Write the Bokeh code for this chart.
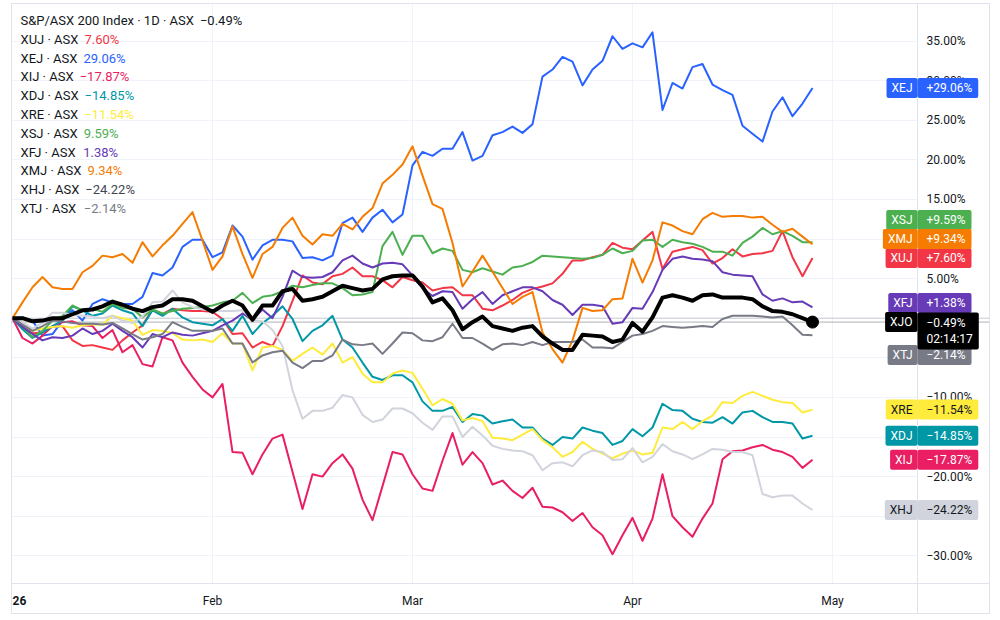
from bokeh.plotting import figure
from bokeh.models import Range1d, FixedTicker, CustomJSTickFormatter, Span, Label
from bokeh.embed import file_html
from bokeh.resources import INLINE

# ---------------------------------------------------------------------------
# Daily % change since the first session of 2026 (ASX trading days, Jan 2 -> Apr 29)
# ---------------------------------------------------------------------------
bars = list(range(81))

xjo = [0, 0.0, -0.4, -0.3, 0.0, 0.0, 0.5, 1.0, 1.1, 1.5, 2.1, 1.7, 1.2, 0.9, 1.4, 1.6, 2.4, 2.4, 2.2, 1.5,
       0.8, 1.6, 2.2, 1.6, -0.2, 1.6, 1.6, 3.4, 3.7, 2.2, 2.4, 2.7, 3.4, 4.1, 3.8, 3.5, 3.7, 4.9, 5.3, 5.4,
       5.4, 4.0, 2.0, 2.5, 1.0, -1.4, -0.5, 0.2, -1.0, -1.3, -1.6, -1.2, -1.0, -2.3, -3.2, -4.0, -4.0, -2.1,
       -2.2, -2.3, -3.0, -2.7, -0.6, -1.7, 0.1, 2.6, 2.9, 2.6, 2.2, 2.9, 3.0, 2.6, 2.6, 2.6, 2.4, 1.5, 0.9,
       0.8, 0.5, 0.0, -0.49]
xuj = [0, -1.1, -1.9, -1.8, -1.1, -1.0, -2.8, -3.5, -3.4, -3.7, -4.0, -2.8, -1.8, -0.9, 1.1, 0.5, 1.2, 1.0,
       0.9, 0.9, 0.8, -0.1, -2.0, -1.9, -3.7, -3.0, -3.5, -1.0, 2.2, 5.4, 4.5, 4.3, 5.3, 5.6, 6.4, 5.3, 5.3,
       4.8, 3.9, 5.2, 4.8, 4.5, 3.5, 3.8, 3.9, 2.9, 2.9, 1.2, 1.0, 1.6, 2.3, 3.2, 3.7, 4.0, 4.4, 5.6, 7.3,
       7.3, 7.7, 8.0, 9.5, 8.9, 8.7, 9.8, 10.9, 6.2, 8.4, 8.7, 9.0, 8.6, 6.9, 7.6, 8.7, 7.8, 8.1, 8.2, 8.5,
       11.0, 7.7, 5.3, 7.60]
xej = [0, 0.1, -0.3, -2.2, -2.0, -0.3, 1.0, -0.3, 1.8, 2.4, 2.0, 1.8, 1.8, 2.7, 5.7, 5.4, 6.4, 9.0, 9.9, 9.9,
       7.7, 8.3, 11.7, 10.3, 7.4, 9.2, 9.9, 9.9, 9.7, 7.6, 7.7, 7.3, 7.9, 12.0, 12.7, 10.9, 12.7, 13.7, 12.1,
       13.1, 19.3, 21.0, 20.5, 21.4, 21.4, 23.5, 19.9, 20.5, 23.1, 23.5, 24.2, 23.4, 24.5, 30.5, 31.4, 33.0,
       32.4, 29.4, 31.4, 32.5, 35.6, 34.0, 34.7, 34.2, 36.1, 26.3, 29.7, 29.0, 31.7, 32.1, 29.5, 28.8, 28.2,
       24.3, 23.3, 22.3, 26.1, 27.9, 25.5, 27.1, 29.06]
xij = [0, -2.5, -3.2, -2.2, -1.0, -0.5, -0.4, -0.9, -1.0, -2.5, -1.5, -4.3, -3.4, -5.8, -6.1, -2.4, -2.8,
       -5.6, -7.4, -9.0, -10.0, -8.3, -16.9, -17.0, -19.7, -17.2, -15.2, -14.7, -19.4, -24.1, -19.7, -20.0,
       -18.3, -17.2, -19.0, -22.9, -25.5, -21.2, -16.9, -17.2, -19.7, -21.5, -21.8, -18.0, -14.5, -18.5,
       -16.9, -18.3, -21.0, -20.5, -21.8, -22.7, -21.4, -23.8, -23.9, -24.5, -25.6, -24.6, -26.4, -27.4,
       -29.8, -27.4, -25.2, -28.1, -25.3, -19.7, -25.0, -26.4, -27.6, -25.3, -23.4, -17.8, -16.8, -16.7,
       -16.3, -16.0, -16.6, -16.9, -17.5, -18.9, -17.87]
xdj = [0, -1.4, -2.5, -1.8, -1.0, -0.3, 1.5, 1.0, 0.3, 0.6, 1.6, 1.0, 0.6, -1.0, 1.0, 0.3, 1.2, 0.1, -0.5,
       -0.7, -0.9, -0.1, -1.6, 0.3, -2.0, -0.6, 0.3, 1.5, -0.1, -2.9, -1.6, -0.9, 0.3, -2.7, -3.7, -5.6, -7.4,
       -7.8, -7.2, -7.2, -8.1, -10.5, -11.7, -11.7, -11.2, -13.1, -12.1, -12.3, -13.3, -13.0, -12.8, -13.8,
       -13.8, -15.2, -16.0, -15.0, -15.2, -13.8, -14.2, -14.5, -16.0, -15.5, -14.0, -14.9, -13.8, -10.8,
       -11.6, -11.7, -12.7, -13.1, -13.2, -12.5, -13.3, -11.9, -11.7, -12.5, -13.1, -13.1, -13.3, -15.2,
       -14.85]
xre = [0, -0.8, -1.6, -1.3, -1.1, -1.0, -1.2, -0.9, -0.8, -0.8, 0.3, 0.0, -0.3, -2.1, -1.5, -1.6, -1.9, -2.7,
       -2.8, -2.7, -3.0, -1.9, -3.2, -3.2, -6.6, -3.7, -3.5, -4.0, -5.4, -4.5, -3.7, -4.6, -3.2, -5.6, -4.9,
       -7.0, -8.1, -8.1, -7.0, -6.6, -6.9, -8.9, -11.0, -10.2, -10.8, -12.9, -12.6, -13.0, -15.1, -15.2,
       -15.4, -14.7, -14.0, -15.4, -16.3, -17.5, -16.9, -15.6, -16.5, -17.1, -17.7, -17.1, -16.7, -17.2,
       -17.0, -13.8, -14.0, -13.1, -14.0, -13.0, -12.3, -10.6, -10.7, -9.8, -9.3, -9.8, -10.3, -10.6, -10.7,
       -11.9, -11.54]
xsj = [0, -1.1, -2.4, -1.6, -0.3, 0.3, 1.6, 1.0, 1.2, 0.8, 1.8, 1.3, 1.2, 0.1, 1.1, 0.6, 0.9, 1.2, 1.3, 1.4,
       1.6, 2.0, 2.2, 3.2, 1.9, 2.7, 2.9, 3.4, 4.1, 3.9, 4.2, 4.4, 4.4, 3.8, 2.9, 3.0, 3.3, 9.1, 10.9, 8.0,
       10.4, 10.4, 8.2, 8.8, 8.5, 6.1, 5.8, 6.3, 5.9, 5.5, 6.4, 6.6, 7.1, 7.9, 7.8, 7.7, 7.6, 7.5, 7.6, 8.0,
       8.8, 8.2, 8.5, 9.8, 9.9, 9.0, 9.9, 9.6, 9.4, 9.0, 8.4, 8.4, 7.9, 9.5, 10.3, 11.4, 10.6, 11.0, 10.4,
       9.6, 9.59]
xfj = [0, -1.1, -2.0, -2.8, -2.4, -2.5, -2.2, -1.3, -2.0, -1.6, -0.7, -1.6, -2.4, -3.7, -2.0, -2.4, -1.8,
       -2.1, -2.2, -1.9, -1.6, -0.9, -0.3, 0.6, -0.2, 1.1, 0.0, 2.7, 6.0, 5.2, 5.1, 5.2, 5.8, 7.3, 7.9, 6.9,
       6.4, 6.9, 7.0, 6.8, 5.4, 3.8, 2.8, 3.4, 3.3, 1.2, 2.4, 3.3, 1.8, 2.9, 3.4, 3.9, 3.9, 3.4, 2.3, 1.7,
       0.4, 1.7, 1.7, 1.5, -0.7, -0.5, 1.3, 1.2, 3.3, 6.1, 7.5, 7.8, 7.5, 7.4, 7.2, 5.8, 5.5, 5.4, 5.3, 3.0,
       2.2, 2.5, 2.0, 2.1, 1.38]
xmj = [0, 2.0, 3.9, 5.2, 3.9, 3.7, 3.7, 5.8, 6.6, 7.9, 7.7, 8.1, 7.0, 9.6, 7.8, 9.2, 10.4, 11.9, 13.4, 9.8,
       6.1, 7.8, 11.6, 8.1, 5.1, 8.1, 9.0, 11.4, 12.7, 10.4, 9.3, 10.6, 10.4, 11.9, 11.2, 12.8, 13.9, 17.0,
       18.1, 19.4, 21.7, 18.0, 14.4, 13.8, 9.5, 4.0, 5.9, 7.9, 5.9, 3.8, 1.8, 2.7, 3.3, -1.8, -3.9, -5.6,
       -2.8, 1.3, 0.9, 1.0, 2.4, 2.5, 7.5, 4.5, 7.3, 12.1, 11.7, 11.0, 10.6, 12.5, 13.3, 12.8, 12.9, 12.9,
       12.7, 12.8, 11.8, 10.9, 11.3, 10.3, 9.34]
xhj = [0, -0.5, -1.3, -0.6, 0.7, 0.7, 0.4, 0.3, 0.2, 0.0, 0.3, -0.3, -0.6, 0.2, 2.0, 2.1, 3.5, 2.0, 1.4, 1.1,
       1.0, 0.9, 0.9, 1.0, -0.2, -0.4, -1.5, -3.5, -9.1, -12.7, -11.7, -11.7, -11.3, -9.7, -10.0, -12.2,
       -13.1, -12.8, -11.4, -11.4, -12.0, -13.2, -14.1, -12.4, -12.4, -15.0, -13.7, -14.8, -16.1, -16.5,
       -16.7, -16.8, -17.3, -19.2, -18.3, -18.2, -18.7, -17.3, -16.7, -16.9, -17.9, -17.8, -16.4, -18.2,
       -17.5, -15.9, -16.8, -17.2, -17.8, -17.2, -16.5, -16.6, -16.9, -16.9, -17.3, -22.2, -22.6, -22.4,
       -22.4, -23.4, -24.22]
xtj = [0, -0.8, -1.6, -1.0, -0.3, -0.4, -0.6, -0.7, -0.7, -0.8, -0.6, -1.3, -2.0, -2.7, -2.4, -2.0, -0.5,
       -1.1, -1.6, -1.6, -1.6, -1.3, -3.2, -3.2, -5.6, -4.7, -4.3, -4.1, -5.6, -6.3, -5.4, -5.4, -4.7, -2.7,
       -3.3, -3.4, -3.2, -4.5, -3.2, -1.8, -1.9, -2.8, -2.9, -2.4, -0.7, -2.5, -2.5, -3.2, -4.0, -3.3, -3.2,
       -3.4, -3.0, -3.4, -3.0, -3.0, -3.0, -2.7, -3.7, -3.7, -3.8, -3.0, -2.2, -2.0, -1.6, -1.0, -1.1, -1.2,
       -1.1, -1.0, -1.1, -0.1, 0.3, 0.3, 0.3, 0.2, 0.1, 0.2, -0.9, -2.1, -2.14]

# time axis: first bar of each month (trading-day index)
month_ticks = [20, 40, 62, 82]
month_labels = ["Feb", "Mar", "Apr", "May"]
year_label = "26"
pct_ticks = list(range(-30, 40, 5))

main_title = "S&P/ASX 200 Index · 1D · ASX"
countdown = "02:14:17"

# symbol, values, line colour, legend value colour, tag text colour
compare = [
    ("XUJ", xuj, "#f23645", "#f23645", "#ffffff"),
    ("XEJ", xej, "#2962ff", "#2962ff", "#ffffff"),
    ("XIJ", xij, "#e91e63", "#e91e63", "#ffffff"),
    ("XDJ", xdj, "#0097a7", "#0097a7", "#ffffff"),
    ("XRE", xre, "#ffeb3b", "#ffeb3b", "#131722"),
    ("XSJ", xsj, "#4caf50", "#4caf50", "#ffffff"),
    ("XFJ", xfj, "#673ab7", "#673ab7", "#ffffff"),
    ("XMJ", xmj, "#f57c00", "#f57c00", "#ffffff"),
    ("XHJ", xhj, "#d1d4dc", "#434651", "#131722"),
    ("XTJ", xtj, "#787b86", "#787b86", "#ffffff"),
]

# ---------------------------------------------------------------------------
# geometry (canvas pixels).  The frame covers the whole bordered chart, the
# price scale and time scale live inside it, right of PS and below TS.
# ---------------------------------------------------------------------------
W, H = 1000, 620
FL, FR, FT, FB = 11, 989, 3, 613         # bordered chart area = plotting frame
PS, TS = 917, 583                        # price-scale and time-scale separators
X0_PX, X_STEP = 12, 10.0                 # pixel of bar 0, pixels per bar
Y0_PX, Y_STEP = 317.7, 7.92              # pixel row of 0 %, pixels per percent
PRICE_TEXT_X = 926                       # left edge of price-scale text
TIME_TEXT_Y = 600                        # centre row of time-scale text
FONT = "Roboto"
TEXT = "#131722"
GRID = "#f0f3fa"
BORDER = "#e0e3eb"


def px_y(v):
    return Y0_PX - Y_STEP * v


def data_x(px):
    return (px - X0_PX) / X_STEP


def data_y(py):
    return (Y0_PX - py) / Y_STEP


def pct(v, sign=False):
    s = f"{abs(v):.2f}%"
    if v < 0:
        return "\u2212" + s
    return ("+" + s) if sign else s


p = figure(width=W, height=H, output_backend="svg", toolbar_location=None,
           x_range=Range1d(data_x(FL), data_x(FR)),
           y_range=Range1d(data_y(FB), data_y(FT)),
           y_axis_location="right",
           min_border_left=FL, min_border_right=W - FR,
           min_border_top=FT, min_border_bottom=H - FB)
p.background_fill_color = "white"
p.border_fill_color = "white"
p.outline_line_color = BORDER

# axes: drawn on the outer border, labels pulled back into the scale strips
yt = FixedTicker(ticks=pct_ticks)
p.yaxis.ticker = yt
p.yaxis.formatter = CustomJSTickFormatter(code="""
    const s = Math.abs(tick).toFixed(2) + '%';
    return tick < 0 ? '\u2212' + s : s;
""")
xt = FixedTicker(ticks=month_ticks)
p.xaxis.ticker = xt
p.xaxis.major_label_overrides = {t: lab for t, lab in zip(month_ticks, month_labels)}
for ax in (p.xaxis, p.yaxis):
    ax.axis_line_color = BORDER
    ax.major_tick_line_color = None
    ax.minor_tick_line_color = None
    ax.major_tick_out = 0
    ax.major_tick_in = 0
    ax.major_label_text_font = FONT
    ax.major_label_text_font_size = "12px"
    ax.major_label_text_color = TEXT
p.yaxis.major_label_standoff = PRICE_TEXT_X - FR
p.xaxis.major_label_standoff = (TIME_TEXT_Y - 7) - FB

p.ygrid.ticker = yt
p.xgrid.ticker = xt
p.ygrid.cross_bounds = (data_x(FL), data_x(PS))
p.xgrid.cross_bounds = (data_y(TS), data_y(FT))
p.grid.grid_line_color = GRID
p.grid.grid_line_width = 1

# zero baseline and last-price line of the main series
p.add_layout(Span(location=0, dimension="width", line_color="#c9cbd1", line_width=1, level="underlay"))
p.add_layout(Span(location=xjo[-1], dimension="width", line_color="#5d606b", line_width=1,
                  line_dash="1 1", level="underlay"))

# series
for sym, vals, col, _, _ in compare:
    p.line(bars, vals, line_color=col, line_width=2, line_join="round")
p.line(bars, xjo, line_color="#000000", line_width=4, line_join="round")
p.scatter([bars[-1]], [xjo[-1]], size=12, color="#000000")

# scale separators
p.add_layout(Span(location=data_x(PS), dimension="height", line_color=BORDER, line_width=1))
p.add_layout(Span(location=data_y(TS), dimension="width", line_color=BORDER, line_width=1))

# year marker on the time scale
p.add_layout(Label(x=X0_PX, y=TIME_TEXT_Y, x_units="canvas", y_units="canvas", text=year_label,
                   text_font=FONT, text_font_size="12px", text_font_style="bold", text_color=TEXT,
                   text_align="left", text_baseline="middle"))

# ---------------------------------------------------------------------------
# legend (top-left)
# ---------------------------------------------------------------------------
EM = {"A": .652, "D": .656, "E": .568, "F": .553, "H": .713, "I": .280, "J": .552, "M": .873,
      "O": .688, "P": .631, "R": .616, "S": .594, "T": .597, "U": .648, "X": .627, "n": .551,
      "d": .561, "e": .530, "x": .496, " ": .248, "\u00b7": .263, "/": .411, "&": .622}


def text_w(s, size):
    return sum(EM.get(c, .562) for c in s) * size


LEG_X, LEG_Y, LEG_STEP, LEG_SIZE, LEG_GAP = 20, 20, 18.8, 13, 6
rows = [(main_title, pct(xjo[-1]), TEXT)] + [(f"{s} · ASX", pct(v[-1]), lc) for s, v, _, lc, _ in compare]
for k, (name, val, col) in enumerate(rows):
    y = LEG_Y + k * LEG_STEP
    p.add_layout(Label(x=LEG_X, y=y, x_units="canvas", y_units="canvas", text=name,
                       text_font=FONT, text_font_size=f"{LEG_SIZE}px", text_color=TEXT,
                       text_align="left", text_baseline="middle"))
    p.add_layout(Label(x=LEG_X + text_w(name, LEG_SIZE) + LEG_GAP, y=y, x_units="canvas",
                       y_units="canvas", text=val, text_font=FONT, text_font_size=f"{LEG_SIZE}px",
                       text_color=col, text_align="left", text_baseline="middle"))

# ---------------------------------------------------------------------------
# price-scale tags, stacked so they never overlap
# ---------------------------------------------------------------------------
TAG_H = 19
MAIN_H = 33
main_c = px_y(xjo[-1])
main_top = main_c - TAG_H / 2
main_bot = main_top + MAIN_H

centers = {}
limit = main_top
for sym, vals, *_ in sorted([c for c in compare if c[1][-1] > xjo[-1]], key=lambda c: c[1][-1]):
    c = min(px_y(vals[-1]), limit - TAG_H / 2)
    centers[sym] = c
    limit = c - TAG_H / 2
limit = main_bot
for sym, vals, *_ in sorted([c for c in compare if c[1][-1] < xjo[-1]], key=lambda c: -c[1][-1]):
    c = max(px_y(vals[-1]), limit + TAG_H / 2)
    centers[sym] = c
    limit = c + TAG_H / 2

# padding as (left, right, top, bottom)
SYM_PAD = (5, 5, 3, 3)
VAL_PAD = (PRICE_TEXT_X - PS, 6, 3, 3)


def tag(sym, val, y, bg, fg):
    p.add_layout(Label(x=PS, y=y, x_units="canvas", y_units="canvas", text=sym,
                       text_font=FONT, text_font_size="12px", text_color=fg,
                       text_align="right", text_baseline="middle",
                       background_fill_color=bg, border_radius=2, padding=SYM_PAD))
    p.add_layout(Label(x=PS, y=y, x_units="canvas", y_units="canvas", text=val,
                       text_font=FONT, text_font_size="12px", text_color=fg,
                       text_align="left", text_baseline="middle",
                       background_fill_color=bg, border_radius=2, padding=VAL_PAD))


for sym, vals, col, _, fg in compare:
    tag(sym, pct(vals[-1], sign=True), centers[sym], col, fg)

# main series tag with the bar countdown underneath
p.add_layout(Label(x=PS, y=main_c, x_units="canvas", y_units="canvas", text="XJO",
                   text_font=FONT, text_font_size="12px", text_color="#ffffff",
                   text_align="right", text_baseline="middle",
                   background_fill_color="#000000", border_radius=2, padding=SYM_PAD))
p.add_layout(Label(x=PS, y=main_top, x_units="canvas", y_units="canvas",
                   text=pct(xjo[-1]) + "\n" + countdown,
                   text_font=FONT, text_font_size="12px", text_color="#ffffff",
                   text_align="left", text_baseline="top",
                   background_fill_color="#000000", border_radius=2, padding=VAL_PAD))

open("out.html", "w").write(file_html(p, INLINE))
